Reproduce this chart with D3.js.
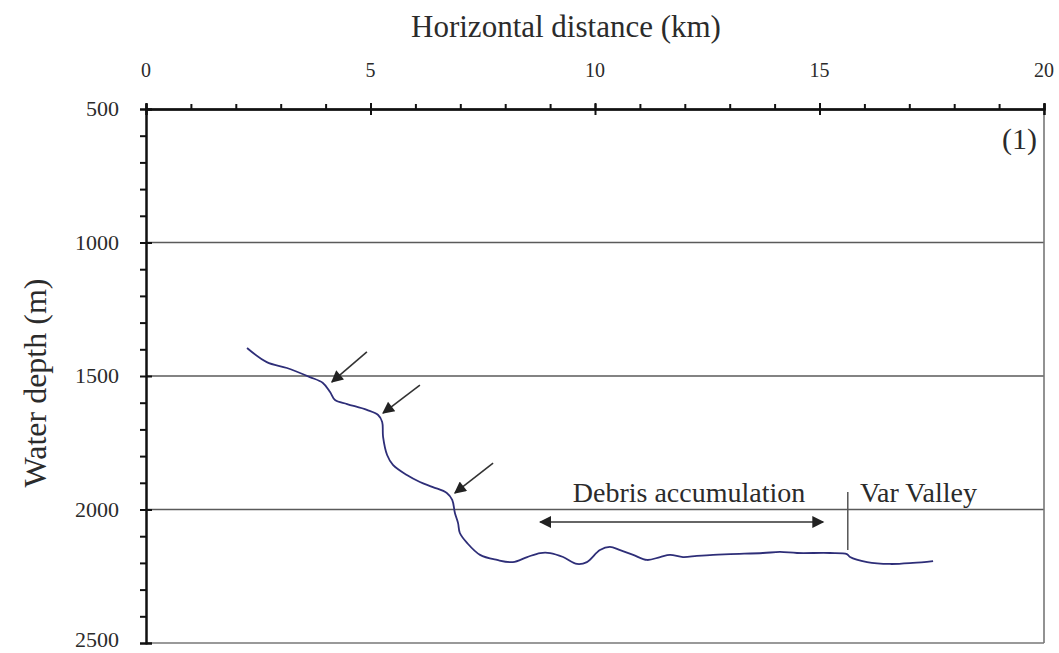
<!DOCTYPE html>
<html>
<head>
<meta charset="utf-8">
<script src="https://cdn.jsdelivr.net/npm/d3@7"></script>
<style>
  body { margin: 0; background: #fff; }
  svg text { font-family: "Liberation Serif", "DejaVu Serif", serif; fill: #2b2b2b; }
</style>
</head>
<body>
<script>
// profile
const distanceKm = [2.25, 2.69, 3.14, 3.65, 3.94, 4.10, 4.21, 4.48, 4.92, 5.17, 5.26, 5.28, 5.37, 5.50, 5.81, 6.10, 6.39, 6.70, 6.82, 6.88, 6.95, 6.99, 7.15, 7.44, 7.82, 8.17, 8.49, 8.78, 9.00, 9.29, 9.60, 9.82, 10.11, 10.33, 10.56, 10.85, 11.16, 11.45, 11.67, 11.96, 12.27, 12.63, 13.01, 13.74, 14.12, 14.50, 15.23, 15.61, 15.68, 16.06, 16.57, 17.08, 17.53];
const depthM = [1395, 1448, 1470, 1504, 1526, 1560, 1590, 1605, 1627, 1646, 1672, 1728, 1796, 1833, 1871, 1897, 1916, 1938, 1964, 2013, 2051, 2088, 2125, 2170, 2189, 2197, 2178, 2163, 2163, 2178, 2204, 2197, 2152, 2140, 2152, 2170, 2189, 2178, 2170, 2178, 2174, 2170, 2167, 2163, 2159, 2163, 2163, 2167, 2178, 2197, 2204, 2200, 2193];

const xTicks = [0, 5, 10, 15, 20];
const yTicks = [500, 1000, 1500, 2000, 2500];
const gridDepths = [1000, 1500, 2000];

// arrows: [fromKm, fromDepth, tipKm, tipDepth]
const arrows = [
  [4.92, 1410, 4.14, 1522],
  [6.10, 1534, 5.28, 1639],
  [7.73, 1826, 6.88, 1938]
];
const debris = { from: 15.08, to: 8.78, depth: 2047, label: "Debris accumulation" };
const varValley = { km: 15.63, top: 1934, bottom: 2152, label: "Var Valley" };

const W = 1059, H = 653;
const margin = { left: 146, right: 15, top: 109, bottom: 10 };

const svg = d3.select('body').append('svg')
  .attr('width', W)
  .attr('height', H)
  .attr('font-family', '"Liberation Serif", serif');

const x = d3.scaleLinear().domain([0, 20]).range([margin.left, W - margin.right]);
const y = d3.scaleLinear().domain([500, 2500]).range([margin.top, H - margin.bottom]);

svg.append('defs').append('marker')
  .attr('id', 'head')
  .attr('viewBox', '0 0 10 10')
  .attr('refX', 9).attr('refY', 5)
  .attr('markerWidth', 16).attr('markerHeight', 12)
  .attr('markerUnits', 'userSpaceOnUse')
  .attr('orient', 'auto-start-reverse')
  .append('path').attr('d', 'M0,0 L10,5 L0,10 Z').attr('fill', '#222');

// grid lines and frame
svg.selectAll('line.grid')
  .data(gridDepths)
  .enter().append('line')
  .attr('class', 'grid')
  .attr('x1', x(0)).attr('x2', x(20))
  .attr('y1', d => y(d)).attr('y2', d => y(d))
  .attr('stroke', '#5a5a5a').attr('stroke-width', 1.6);

svg.append('line')
  .attr('x1', x(20)).attr('x2', x(20))
  .attr('y1', y(500)).attr('y2', y(2500))
  .attr('stroke', '#777').attr('stroke-width', 1.6);
svg.append('line')
  .attr('x1', x(0)).attr('x2', x(20))
  .attr('y1', y(2500)).attr('y2', y(2500))
  .attr('stroke', '#777').attr('stroke-width', 1.6);

// top axis: minor ticks above, major ticks crossing
const topG = svg.append('g').attr('transform', `translate(0,${y(500)})`);
topG.call(d3.axisTop(x).tickValues(d3.range(0, 21, 1)).tickSize(5).tickFormat(''));
topG.append('g').call(d3.axisBottom(x).tickValues(xTicks).tickSize(6).tickFormat(''));
topG.append('g').call(d3.axisTop(x).tickValues(xTicks).tickSize(6).tickFormat(''));
topG.selectAll('path, line').attr('stroke', '#111').attr('stroke-width', 2);

svg.selectAll('text.xlab')
  .data(xTicks)
  .enter().append('text')
  .attr('class', 'xlab')
  .attr('x', d => x(d))
  .attr('y', 77)
  .attr('text-anchor', 'middle')
  .attr('font-size', 20)
  .text(d => d);

// left axis
const leftG = svg.append('g').attr('transform', `translate(${x(0)},0)`);
leftG.call(d3.axisLeft(y).tickValues(d3.range(500, 2501, 100)).tickSize(6).tickFormat(''));
leftG.append('g').call(d3.axisRight(y).tickValues(yTicks).tickSize(6).tickFormat(''));
leftG.selectAll('path, line').attr('stroke', '#111').attr('stroke-width', 2);

svg.selectAll('text.ylab')
  .data(yTicks)
  .enter().append('text')
  .attr('class', 'ylab')
  .attr('x', 119)
  .attr('y', d => Math.min(y(d) + 7, H - 6))
  .attr('text-anchor', 'end')
  .attr('font-size', 22)
  .text(d => d);

// titles
svg.append('text')
  .attr('x', 566).attr('y', 37)
  .attr('text-anchor', 'middle')
  .attr('font-size', 31)
  .text('Horizontal distance (km)');

svg.append('text')
  .attr('transform', `translate(46,383) rotate(-90)`)
  .attr('text-anchor', 'middle')
  .attr('font-size', 32)
  .text('Water depth (m)');

svg.append('text')
  .attr('x', 1037).attr('y', 149)
  .attr('text-anchor', 'end')
  .attr('font-size', 30)
  .text('(1)');

// profile
const profile = distanceKm.map((d, i) => [d, depthM[i]]);
svg.append('path')
  .datum(profile)
  .attr('fill', 'none')
  .attr('stroke', '#2e2e78')
  .attr('stroke-width', 1.8)
  .attr('d', d3.line().x(d => x(d[0])).y(d => y(d[1])).curve(d3.curveCatmullRom));

// arrows
svg.selectAll('line.arrow')
  .data(arrows)
  .enter().append('line')
  .attr('class', 'arrow')
  .attr('x1', d => x(d[0])).attr('y1', d => y(d[1]))
  .attr('x2', d => x(d[2])).attr('y2', d => y(d[3]))
  .attr('stroke', '#333').attr('stroke-width', 1.6)
  .attr('marker-end', 'url(#head)');

svg.append('line')
  .attr('x1', x(debris.to)).attr('x2', x(debris.from))
  .attr('y1', y(debris.depth)).attr('y2', y(debris.depth))
  .attr('stroke', '#333').attr('stroke-width', 1.6)
  .attr('marker-start', 'url(#head)')
  .attr('marker-end', 'url(#head)');

svg.append('text')
  .attr('x', 689).attr('y', 502)
  .attr('text-anchor', 'middle')
  .attr('font-size', 28)
  .text(debris.label);

svg.append('line')
  .attr('x1', x(varValley.km)).attr('x2', x(varValley.km))
  .attr('y1', y(varValley.top)).attr('y2', y(varValley.bottom))
  .attr('stroke', '#555').attr('stroke-width', 1.5);

svg.append('text')
  .attr('x', 860).attr('y', 502)
  .attr('font-size', 28)
  .text(varValley.label);
</script>
</body>
</html>
